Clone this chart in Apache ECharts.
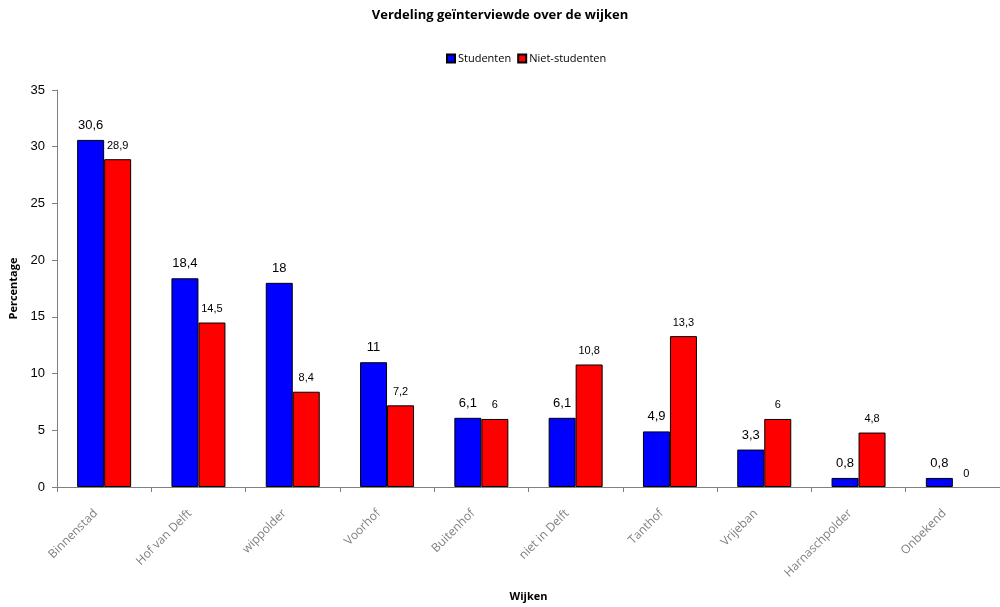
<!DOCTYPE html>
<html><head><meta charset="utf-8">
<script src="https://cdn.jsdelivr.net/npm/echarts@6/dist/echarts.min.js"></script>
<style>html,body{margin:0;padding:0;background:#fff}#c{width:1000px;height:607px}</style>
</head><body><div id="c"></div>
<script>
var categories = ["Binnenstad","Hof van Delft","wippolder","Voorhof","Buitenhof","niet in Delft","Tanthof","Vrijeban","Harnaschpolder","Onbekend"];
var studenten = [30.6,18.4,18,11,6.1,6.1,4.9,3.3,0.8,0.8];
var nietStudenten = [28.9,14.5,8.4,7.2,6,10.8,13.3,6,4.8,0];
var seriesNames = ["Studenten","Niet-studenten"];

function fmt(p){ return String(p.value).replace('.', ','); }
function barData(arr){
  return arr.map(function(v){ return v === 0 ? {value:v, itemStyle:{borderWidth:0, color:'rgba(0,0,0,0)'}} : v; });
}

var chart = echarts.init(document.getElementById('c'), null, {renderer:'canvas'});
chart.setOption({
  animation:false,
  backgroundColor:'#fff',
  title:{text:'Verdeling geïnterviewde over de wijken',left:'center',top:4,
    textStyle:{fontFamily:'Open Sans',fontSize:13,fontWeight:'bold',color:'#000'}},
  legend:{data:seriesNames,left:441,top:48,itemWidth:8,itemHeight:8,itemGap:6,icon:'rect',
    textStyle:{fontFamily:'Open Sans',fontSize:11,color:'#000',padding:[0,0,0,-2]}},
  grid:{left:55,top:90,right:0,bottom:118,containLabel:false},
  xAxis:{type:'category',data:categories,name:'Wijken',nameLocation:'middle',nameGap:104,
    nameTextStyle:{fontFamily:'Open Sans',fontSize:11,fontWeight:'bold',color:'#000'},
    axisLine:{lineStyle:{color:'#808080',width:1}},
    axisTick:{show:true,alignWithLabel:false,length:5,lineStyle:{color:'#808080'}},
    axisLabel:{rotate:45,interval:0,fontFamily:'Open Sans',fontSize:12,color:'#808080',margin:16,padding:[0,12,0,0]}},
  yAxis:{type:'value',min:0,max:35,interval:5,name:'Percentage',nameLocation:'middle',nameGap:38,
    nameTextStyle:{fontFamily:'Open Sans',fontSize:11,fontWeight:'bold',color:'#000'},
    axisLine:{show:true,lineStyle:{color:'#808080',width:1}},
    axisTick:{show:true,length:5,lineStyle:{color:'#808080'}},
    splitLine:{show:false},
    axisLabel:{fontFamily:'Liberation Sans',fontSize:13,color:'#000',margin:12}},
  series:[
    {name:seriesNames[0],type:'bar',data:barData(studenten),barWidth:27,barGap:'0%',
     itemStyle:{color:'#0000ff',borderColor:'#000',borderWidth:1},
     label:{show:true,position:'top',distance:8,formatter:fmt,fontFamily:'Liberation Sans',fontSize:13,color:'#000'}},
    {name:seriesNames[1],type:'bar',data:barData(nietStudenten),barWidth:27,barGap:'0%',
     itemStyle:{color:'#ff0000',borderColor:'#000',borderWidth:1},
     label:{show:true,position:'top',distance:8,formatter:fmt,fontFamily:'Liberation Sans',fontSize:11,color:'#000'}}
  ]
});
</script></body></html>
